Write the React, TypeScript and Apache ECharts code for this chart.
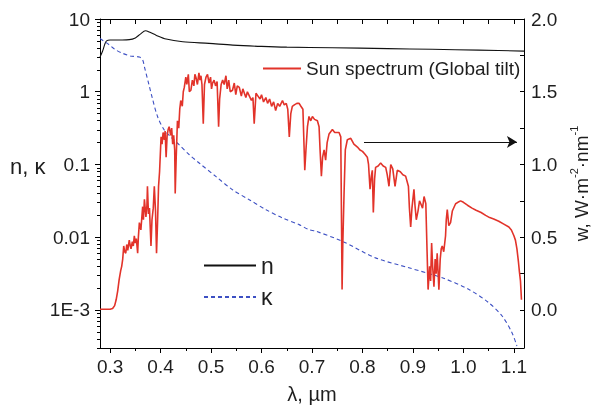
import React, { useEffect, useRef } from 'react';
import * as echarts from 'echarts';

// Sun spectrum (AM1.5 global tilt), wavelength in µm, irradiance in W·m-2·nm-1 (right axis)
const sunWavelength = [
  0.280, 0.290, 0.300, 0.305, 0.309, 0.312, 0.315, 0.318, 0.321, 0.323, 0.325, 0.327, 0.329, 0.331, 0.333,
  0.335, 0.338, 0.340, 0.3415, 0.344, 0.346, 0.348, 0.350, 0.352, 0.3546, 0.356, 0.358, 0.361, 0.3645, 0.366,
  0.368, 0.371, 0.373, 0.374, 0.376, 0.378, 0.381, 0.383, 0.3855, 0.3876, 0.390, 0.392, 0.394, 0.396, 0.398,
  0.401, 0.403, 0.405, 0.4075, 0.409, 0.411, 0.413, 0.415, 0.417, 0.420, 0.422, 0.424, 0.426, 0.428, 0.429,
  0.431, 0.4334, 0.436, 0.438, 0.440, 0.443, 0.445, 0.447, 0.450, 0.452, 0.455, 0.457, 0.460, 0.463, 0.466,
  0.468, 0.470, 0.473, 0.476, 0.478, 0.480, 0.482, 0.4846, 0.487, 0.490, 0.493, 0.496, 0.499, 0.501, 0.503,
  0.506, 0.509, 0.512, 0.515, 0.517, 0.520, 0.523, 0.526, 0.5295, 0.532, 0.535, 0.538, 0.5425, 0.546, 0.549,
  0.552, 0.556, 0.560, 0.563, 0.566, 0.569, 0.572, 0.576, 0.580, 0.583, 0.5855, 0.589, 0.593, 0.597, 0.600,
  0.604, 0.6086, 0.612, 0.616, 0.620, 0.624, 0.628, 0.632, 0.636, 0.6415, 0.645, 0.649, 0.652, 0.655, 0.658,
  0.661, 0.665, 0.670, 0.6745, 0.678, 0.682, 0.6857, 0.688, 0.691, 0.694, 0.6975, 0.7008, 0.705, 0.7107, 0.714,
  0.716, 0.7186, 0.721, 0.724, 0.727, 0.730, 0.7338, 0.7404, 0.745, 0.7536, 0.757, 0.7585, 0.7596, 0.761, 0.7635,
  0.766, 0.770, 0.7768, 0.783, 0.790, 0.795, 0.800, 0.805, 0.8096, 0.812, 0.815, 0.8175, 0.8195, 0.8215, 0.824,
  0.826, 0.831, 0.836, 0.841, 0.846, 0.849, 0.8525, 0.856, 0.860, 0.8645, 0.869, 0.875, 0.880, 0.8855, 0.891,
  0.893, 0.8955, 0.898, 0.902, 0.904, 0.9066, 0.910, 0.913, 0.9155, 0.919, 0.922, 0.9255, 0.928, 0.930, 0.933,
  0.935, 0.937, 0.939, 0.9416, 0.944, 0.946, 0.948, 0.9514, 0.954, 0.956, 0.958, 0.961, 0.9646, 0.966, 0.968,
  0.971, 0.9745, 0.978, 0.9845, 0.989, 0.9944, 1.000, 1.008, 1.017, 1.025, 1.035, 1.044, 1.052, 1.060, 1.070,
  1.080, 1.090, 1.095, 1.100, 1.103, 1.106, 1.109, 1.111, 1.113, 1.115,
];
const sunIrradiance = [
  0.005, 0.005, 0.005, 0.01, 0.03, 0.07, 0.13, 0.21, 0.27, 0.30, 0.35, 0.44, 0.40, 0.39, 0.45,
  0.41, 0.48, 0.44, 0.42, 0.47, 0.44, 0.51, 0.46, 0.49, 0.39, 0.50, 0.60, 0.55, 0.71, 0.62,
  0.76, 0.64, 0.72, 0.85, 0.66, 0.70, 0.44, 0.62, 0.70, 0.85, 0.68, 0.39, 0.60, 0.85, 0.95,
  1.19, 1.14, 1.22, 1.17, 1.23, 1.05, 1.20, 1.24, 1.26, 1.20, 1.25, 1.14, 1.20, 1.10, 0.80,
  1.05, 1.30, 1.25, 1.38, 1.44, 1.40, 1.50, 1.53, 1.60, 1.55, 1.62, 1.50, 1.51, 1.58, 1.54,
  1.62, 1.60, 1.55, 1.63, 1.58, 1.61, 1.55, 1.28, 1.55, 1.60, 1.62, 1.56, 1.60, 1.52, 1.56,
  1.58, 1.54, 1.57, 1.26, 1.45, 1.55, 1.58, 1.55, 1.61, 1.52, 1.58, 1.50, 1.51, 1.56, 1.48,
  1.54, 1.53, 1.47, 1.52, 1.49, 1.46, 1.50, 1.47, 1.44, 1.46, 1.28, 1.49, 1.47, 1.45, 1.48,
  1.43, 1.46, 1.42, 1.45, 1.40, 1.43, 1.37, 1.42, 1.40, 1.44, 1.41, 1.42, 1.38, 1.19, 1.35,
  1.40, 1.41, 1.42, 1.42, 1.40, 1.38, 0.96, 1.10, 1.26, 1.33, 1.30, 1.33, 1.31, 1.30, 1.26,
  1.10, 0.92, 1.05, 1.10, 1.03, 1.15, 1.21, 1.24, 1.22, 1.22, 1.19, 0.60, 0.14, 0.45, 0.80,
  1.10, 1.17, 1.18, 1.14, 1.12, 1.10, 1.09, 1.07, 1.05, 1.00, 0.83, 0.92, 0.96, 0.67, 0.90,
  0.98, 0.99, 1.01, 0.99, 0.98, 0.93, 0.85, 1.00, 0.97, 0.85, 0.96, 0.95, 0.93, 0.92, 0.85,
  0.70, 0.57, 0.70, 0.83, 0.72, 0.62, 0.68, 0.75, 0.73, 0.70, 0.78, 0.73, 0.40, 0.14, 0.30,
  0.20, 0.46, 0.30, 0.16, 0.35, 0.25, 0.39, 0.14, 0.35, 0.42, 0.44, 0.40, 0.51, 0.62, 0.69,
  0.58, 0.60, 0.68, 0.73, 0.74, 0.75, 0.74, 0.72, 0.70, 0.685, 0.67, 0.65, 0.635, 0.625, 0.61,
  0.59, 0.57, 0.55, 0.51, 0.48, 0.42, 0.33, 0.26, 0.20, 0.07,
];

// Refractive index n (left axis)
const nWavelength = [0.280, 0.285, 0.290, 0.293, 0.300, 0.320, 0.338, 0.350, 0.360, 0.370, 0.380, 0.391, 0.411, 0.444, 0.496, 0.543, 0.600, 0.650, 0.740, 0.850, 0.938, 1.030, 1.120];
const nValues = [3.0, 3.6, 4.6, 5.0, 5.14, 5.15, 5.2, 5.5, 6.2, 6.9, 6.5, 6.0, 5.3, 4.86, 4.62, 4.38, 4.2, 4.1, 4.03, 3.92, 3.83, 3.73, 3.62];

// Extinction coefficient κ (left axis)
const kappaWavelength = [0.280, 0.2986, 0.310, 0.325, 0.340, 0.358, 0.3645, 0.368, 0.378, 0.384, 0.394, 0.407, 0.420, 0.437, 0.457, 0.477, 0.510, 0.5425, 0.5756, 0.609, 0.6415, 0.6745, 0.694, 0.7075, 0.760, 0.826, 0.892, 0.958, 1.011, 1.050, 1.077, 1.096, 1.106];
const kappaValues = [5.4, 4.4, 3.8, 3.37, 3.1, 3.0, 2.73, 2.2, 1.17, 0.8, 0.456, 0.30, 0.24, 0.186, 0.136, 0.104, 0.068, 0.045, 0.0328, 0.0239, 0.0184, 0.0149, 0.0127, 0.0121, 0.0088, 0.0052, 0.0038, 0.00277, 0.00191, 0.00126, 0.00082, 0.00049, 0.00032];

// Axis ticks and labels
const xMajorTicks = [0.3, 0.4, 0.5, 0.6, 0.7, 0.8, 0.9, 1.0, 1.1];
const xMinorTicks = [0.35, 0.45, 0.55, 0.65, 0.75, 0.85, 0.95, 1.05];
const xTopTicks = [0.3, 0.35, 0.4, 0.45, 0.5, 0.55, 0.6, 0.65, 0.7, 0.75, 0.8, 0.85, 0.9, 0.95, 1.0, 1.05, 1.1];
const leftTickValues = [0.001, 0.01, 0.1, 1, 10];
const leftTickLabels = ['1E-3', '0.01', '0.1', '1', '10'];
const leftMinorTicks = [
  0.0003, 0.0004, 0.0005, 0.0006, 0.0007, 0.0008, 0.0009,
  0.002, 0.003, 0.004, 0.005, 0.006, 0.007, 0.008, 0.009,
  0.02, 0.03, 0.04, 0.05, 0.06, 0.07, 0.08, 0.09,
  0.2, 0.3, 0.4, 0.5, 0.6, 0.7, 0.8, 0.9,
  2, 3, 4, 5, 6, 7, 8, 9,
];
const rightTickValues = [0, 0.5, 1.0, 1.5, 2.0];
const rightTickMarks = [0, 0.25, 0.5, 0.75, 1.0, 1.25, 1.5, 1.75, 2.0];

const arrowFrom = [0.803, 1.155];
const arrowTo = [1.106, 1.155];

const X_MIN = 0.28;
const X_MAX = 1.12;
const LEFT_MIN = 3e-4;
const LEFT_MAX = 10;
const RIGHT_MIN = (Math.log10(LEFT_MIN) + 3) / 2;
const RIGHT_MAX = 2;

const FONT = "'Liberation Sans', Arial, sans-serif";
const TXT = '#1e1e1e';
const AX = '#000';

const tick = (values: number[], length: number, inside: boolean) => ({
  show: true, inside, length, customValues: values,
  lineStyle: { color: AX, width: 1 },
});
const off = () => ({ show: false });

export default function App() {
  const ref = useRef<HTMLDivElement>(null);
  useEffect(() => {
    const chart = echarts.init(ref.current!, null, { renderer: 'svg' });
    const option: any = {
      animation: false,
      textStyle: { fontFamily: FONT },
      grid: { left: 100, right: 69, top: 19, bottom: 62, outerBoundsMode: 'none' },
      legend: [
        {
          data: ['Sun spectrum (Global tilt)'],
          left: 262, top: 59, padding: 0,
          itemWidth: 38, itemHeight: 14, selectedMode: false,
          itemStyle: { opacity: 0 },
          textStyle: { fontSize: 19, color: TXT, fontFamily: FONT },
        },
        {
          data: ['n', 'κ'],
          orient: 'vertical',
          left: 203, top: 254, padding: 0,
          itemWidth: 52, itemHeight: 14, itemGap: 8.5, selectedMode: false,
          itemStyle: { opacity: 0 },
          textStyle: { fontSize: 23, color: TXT, fontFamily: FONT },
        },
      ],
      graphic: [
        {
          type: 'text', left: 10, top: 155,
          style: { text: 'n, κ', fontSize: 22, fill: TXT, fontFamily: FONT },
        },
      ],
      xAxis: [
        {
          type: 'value', position: 'bottom', min: X_MIN, max: X_MAX,
          axisLine: { show: true, onZero: false, lineStyle: { color: AX, width: 1 } },
          axisTick: tick(xMajorTicks, 5, false),
          axisLabel: {
            customValues: xMajorTicks, margin: 9, fontSize: 19, color: TXT, fontFamily: FONT,
            formatter: (v: number) => v.toFixed(1),
          },
          splitLine: off(),
          name: 'λ, µm', nameLocation: 'middle', nameGap: 36,
          nameTextStyle: { fontSize: 20, color: TXT, fontFamily: FONT },
        },
        {
          type: 'value', position: 'bottom', min: X_MIN, max: X_MAX,
          axisLine: { show: false, onZero: false },
          axisTick: tick(xMinorTicks, 3, false),
          axisLabel: off(), splitLine: off(),
        },
        {
          type: 'value', position: 'top', min: X_MIN, max: X_MAX,
          axisLine: { show: true, onZero: false, lineStyle: { color: AX, width: 1 } },
          axisTick: tick(xTopTicks, 5, true),
          axisLabel: off(), splitLine: off(),
        },
      ],
      yAxis: [
        {
          type: 'log', logBase: 10, position: 'left', min: LEFT_MIN, max: LEFT_MAX,
          axisLine: { show: true, onZero: false, lineStyle: { color: AX, width: 1 } },
          axisTick: tick(leftTickValues, 5, false),
          axisLabel: {
            customValues: leftTickValues, margin: 10, fontSize: 19, color: TXT, fontFamily: FONT,
            formatter: (v: number) => leftTickLabels[Math.round(Math.log10(v)) + 3],
          },
          splitLine: off(),
        },
        {
          type: 'log', logBase: 10, position: 'left', min: LEFT_MIN, max: LEFT_MAX,
          axisLine: { show: false, onZero: false },
          axisTick: tick(leftMinorTicks, 3, false),
          axisLabel: off(), splitLine: off(),
        },
        {
          type: 'value', position: 'right', min: RIGHT_MIN, max: RIGHT_MAX,
          axisLine: { show: true, onZero: false, lineStyle: { color: AX, width: 1 } },
          axisTick: tick(rightTickMarks, 4, true),
          axisLabel: {
            customValues: rightTickValues, margin: 7, fontSize: 19, color: TXT, fontFamily: FONT,
            formatter: (v: number) => v.toFixed(1),
          },
          splitLine: off(),
          name: '{a|w, W·m}{s|-2}{a|·nm}{s|-1}',
          nameLocation: 'middle', nameRotate: 90, nameGap: 30,
          nameTextStyle: {
            fontSize: 19, color: TXT, fontFamily: FONT,
            rich: {
              a: { fontSize: 19, color: TXT, fontFamily: FONT, lineHeight: 23, verticalAlign: 'bottom' },
              s: { fontSize: 11, color: TXT, fontFamily: FONT, verticalAlign: 'top' },
            },
          },
        },
      ],
      series: [
        {
          name: 'n', type: 'line', xAxisIndex: 0, yAxisIndex: 0,
          data: nWavelength.map((x, i) => [x, nValues[i]]),
          showSymbol: false, symbol: 'none', smooth: 0.3,
          lineStyle: { color: '#111', width: 1.1 },
          itemStyle: { color: '#111' },
        },
        {
          name: 'κ', type: 'line', xAxisIndex: 0, yAxisIndex: 0,
          data: kappaWavelength.map((x, i) => [x, kappaValues[i]]),
          showSymbol: false, symbol: 'none', smooth: 0.3,
          lineStyle: { color: '#3d50c3', width: 1.1, type: [4, 3] },
          itemStyle: { color: '#3d50c3' },
        },
        {
          name: 'Sun spectrum (Global tilt)', type: 'line', xAxisIndex: 0, yAxisIndex: 2,
          data: sunWavelength.map((x, i) => [x, sunIrradiance[i]]),
          showSymbol: false, symbol: 'none',
          lineStyle: { color: '#e2332a', width: 1.6 },
          itemStyle: { color: '#e2332a' },
          markLine: {
            silent: true, symbol: ['none', 'arrow'], symbolSize: [9, 10],
            label: { show: false },
            lineStyle: { color: '#111', width: 1, type: 'solid' },
            data: [[{ coord: arrowFrom }, { coord: arrowTo }]],
          },
        },
      ],
    };
    chart.setOption(option);
    return () => chart.dispose();
  }, []);
  return <div ref={ref} style={{ position: 'fixed', left: 0, top: 0, width: 593, height: 410 }} />;
}
